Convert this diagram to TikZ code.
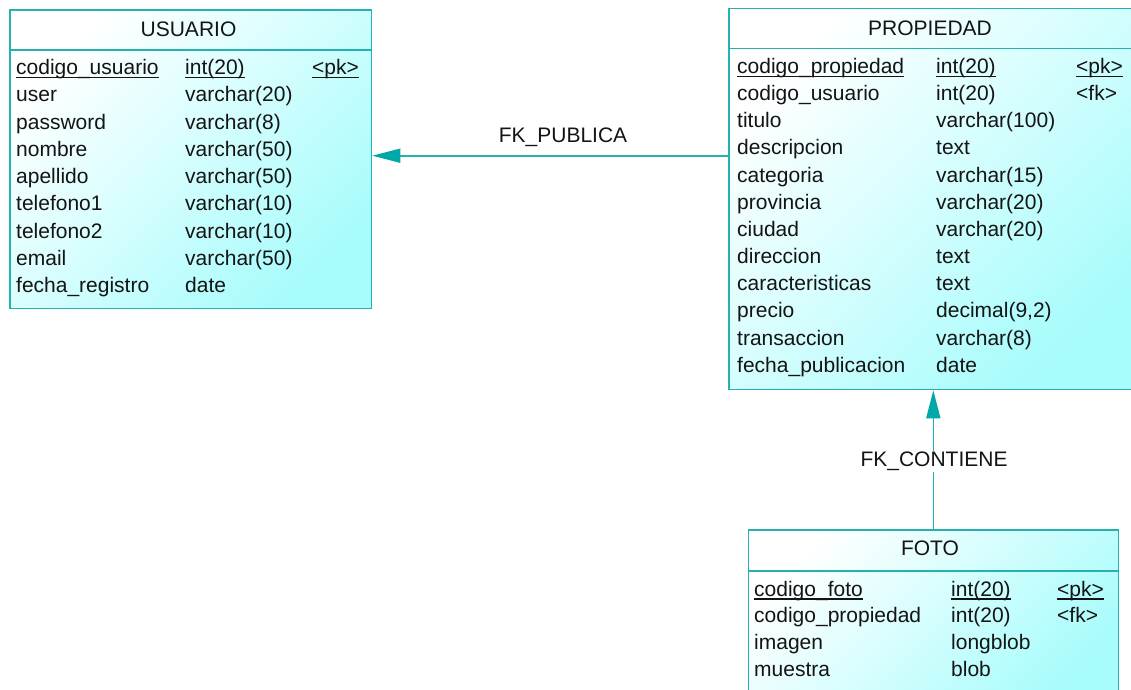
\documentclass[tikz,border=0pt]{standalone}
\usepackage{fontspec}
\setmainfont{Liberation Sans}
\usetikzlibrary{arrows.meta}

\definecolor{erline}{RGB}{36,178,176}
\definecolor{erarrow}{RGB}{0,168,168}
\definecolor{erfill}{RGB}{168,252,252}
\definecolor{ertext}{RGB}{20,20,20}

\tikzset{
  entity/.style={rectangle, draw=erline, line width=1.8pt, inner sep=0pt,
    anchor=north west, top color=white, bottom color=erfill, shading angle=45},
  hline/.style={draw=erline, line width=1.8pt},
  cell/.style={anchor=base west, inner sep=0pt, text=ertext,
    font=\fontsize{21}{25}\selectfont},
  ttl/.style={anchor=base, inner sep=0pt, text=ertext,
    font=\fontsize{21}{25}\selectfont},
  fklabel/.style={anchor=base, inner sep=1.5pt, text=ertext,
    font=\fontsize{21}{25}\selectfont},
  fk/.style={draw=erline, line width=1.6pt,
    -{Triangle[length=28pt,width=14pt,fill=erarrow,color=erarrow]}},
  keyline/.style={draw=ertext, line width=1.1pt}
}

% one attribute row: prefix, index, baseline y, three column x's, name, type, key
\newcommand\erow[9]{%
  \node[cell] (#1#2a) at (#4,#3) {#7};
  \node[cell] (#1#2b) at (#5,#3) {#8};
  \node[cell] (#1#2c) at (#6,#3) {#9};
}
% underline of a primary-key cell
\newcommand\eul[1]{%
  \draw[keyline] ([yshift=-3pt]#1.base west) -- ([yshift=-3pt]#1.base east);
}

\begin{document}
\begin{tikzpicture}[x=1pt, y=-1pt]
\clip (0,0) rectangle (1131,689);
\fill[white] (0,0) rectangle (1131,689);

% ---------- USUARIO ----------
\node[entity, minimum width=361.5pt, minimum height=298.5pt] (usuario) at (9,9) {};
\draw[hline] ([yshift=-41pt]usuario.north west) -- ([yshift=-41pt]usuario.north east);
\node[ttl] (usuarioT) at (188.5,36) {USUARIO};
\erow{u}{0}{74.5}{16}{185}{312}{codigo\_usuario}{int(20)}{<pk>}
\erow{u}{1}{101.75}{16}{185}{312}{user}{varchar(20)}{}
\erow{u}{2}{129}{16}{185}{312}{password}{varchar(8)}{}
\erow{u}{3}{156.25}{16}{185}{312}{nombre}{varchar(50)}{}
\erow{u}{4}{183.5}{16}{185}{312}{apellido}{varchar(50)}{}
\erow{u}{5}{210.75}{16}{185}{312}{telefono1}{varchar(10)}{}
\erow{u}{6}{238}{16}{185}{312}{telefono2}{varchar(10)}{}
\erow{u}{7}{265.25}{16}{185}{312}{email}{varchar(50)}{}
\erow{u}{8}{292.5}{16}{185}{312}{fecha\_registro}{date}{}
\eul{u0a}\eul{u0b}\eul{u0c}

% ---------- PROPIEDAD ----------
\node[entity, minimum width=404pt, minimum height=381pt] (propiedad) at (728,7.5) {};
\draw[hline] ([yshift=-41pt]propiedad.north west) -- ([yshift=-41pt]propiedad.north east);
\node[ttl] (propiedadT) at (930,35) {PROPIEDAD};
\erow{p}{0}{73.3}{737}{936}{1076}{codigo\_propiedad}{int(20)}{<pk>}
\erow{p}{1}{100.5}{737}{936}{1076}{codigo\_usuario}{int(20)}{<fk>}
\erow{p}{2}{127.7}{737}{936}{1076}{titulo}{varchar(100)}{}
\erow{p}{3}{154.8}{737}{936}{1076}{descripcion}{text}{}
\erow{p}{4}{182.0}{737}{936}{1076}{categoria}{varchar(15)}{}
\erow{p}{5}{209.2}{737}{936}{1076}{provincia}{varchar(20)}{}
\erow{p}{6}{236.4}{737}{936}{1076}{ciudad}{varchar(20)}{}
\erow{p}{7}{263.6}{737}{936}{1076}{direccion}{text}{}
\erow{p}{8}{290.7}{737}{936}{1076}{caracteristicas}{text}{}
\erow{p}{9}{317.9}{737}{936}{1076}{precio}{decimal(9,2)}{}
\erow{p}{10}{345.1}{737}{936}{1076}{transaccion}{varchar(8)}{}
\erow{p}{11}{372.3}{737}{936}{1076}{fecha\_publicacion}{date}{}
\eul{p0a}\eul{p0b}\eul{p0c}

% ---------- FOTO ----------
\node[entity, minimum width=370pt, minimum height=175pt] (foto) at (747.5,529) {};
\draw[hline] ([yshift=-42pt]foto.north west) -- ([yshift=-42pt]foto.north east);
\node[ttl] (fotoT) at (930,555.7) {FOTO};
\erow{f}{0}{596}{754}{951}{1057}{codigo\_foto}{int(20)}{<pk>}
\erow{f}{1}{622.5}{754}{951}{1057}{codigo\_propiedad}{int(20)}{<fk>}
\erow{f}{2}{649.3}{754}{951}{1057}{imagen}{longblob}{}
\erow{f}{3}{676}{754}{951}{1057}{muestra}{blob}{}
\eul{f0a}\eul{f0b}\eul{f0c}

% ---------- relationships ----------
\coordinate (pub) at (0,155.7);
\coordinate (con) at (933.3,0);
\draw[fk] (propiedad.west |- pub) -- (usuario.east |- pub);
\node[fklabel] (pubL) at (563,142.7) {FK\_PUBLICA};
\draw[fk] (foto.north -| con) -- (propiedad.south -| con);
\node[fklabel, fill=white] (conL) at (934,466.7) {FK\_CONTIENE};
\end{tikzpicture}
\end{document}
